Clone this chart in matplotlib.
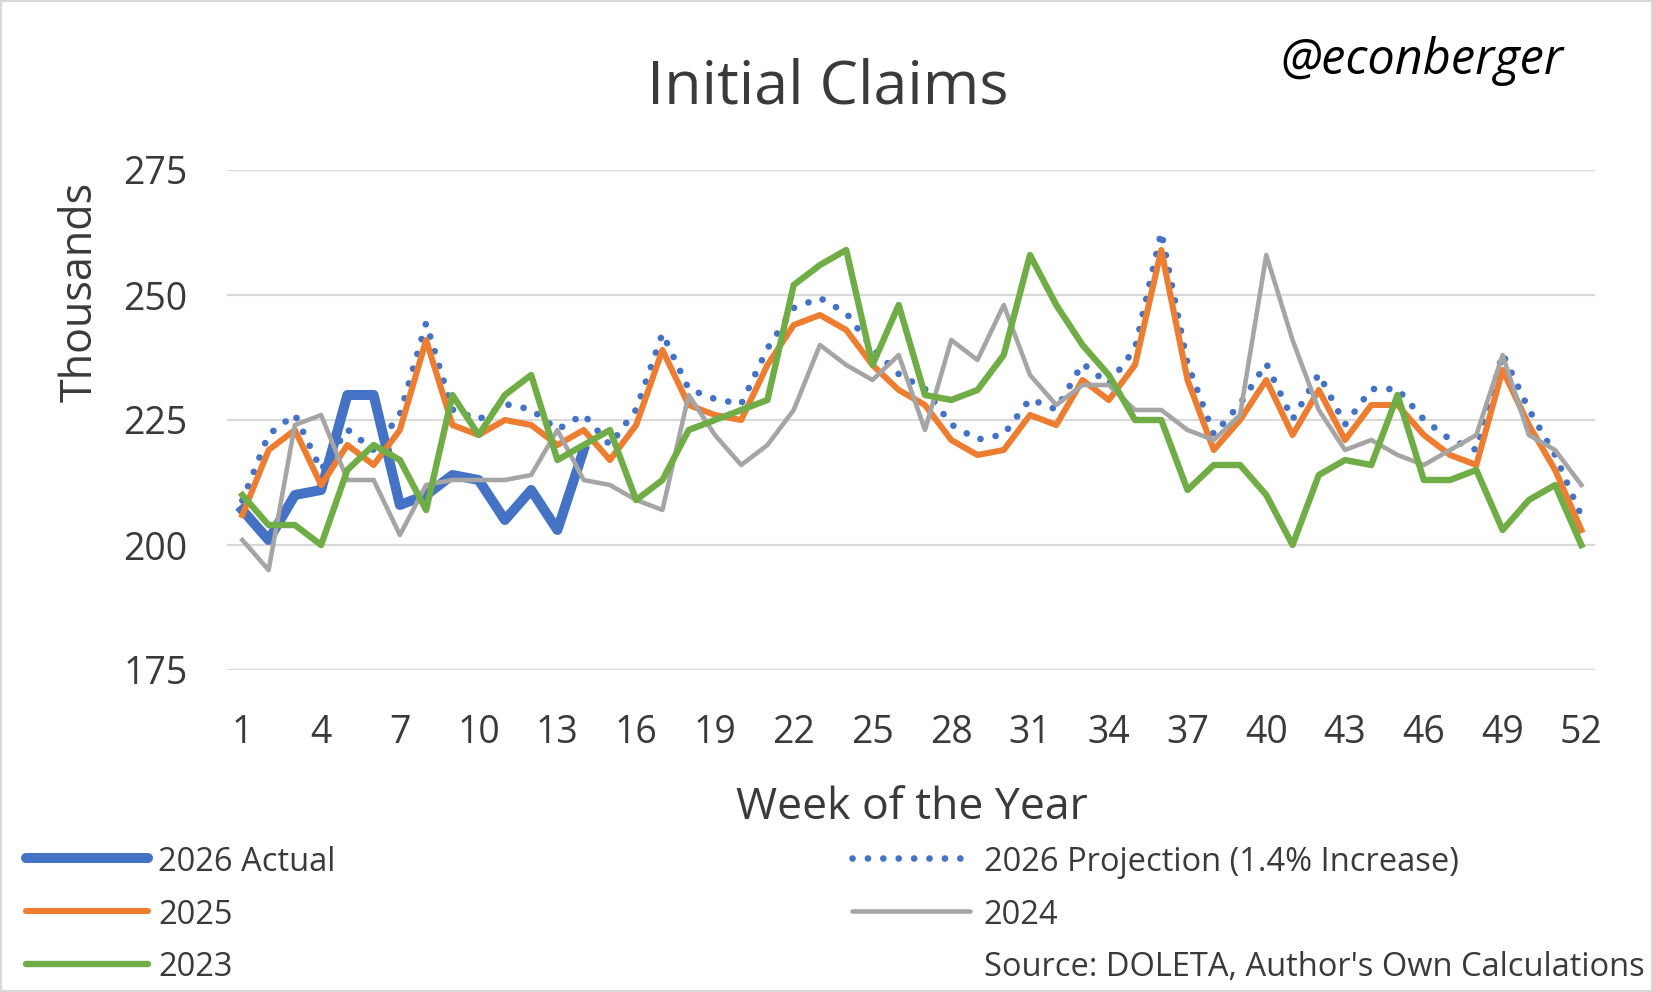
import matplotlib
matplotlib.use("Agg")
from matplotlib import pyplot as plt
from matplotlib.lines import Line2D
from matplotlib.patches import Rectangle

# weekly initial claims, thousands
weeks = list(range(1, 53))
actual_2026 = [207, 201, 210, 211, 230, 230, 208, 210, 214, 213, 205, 211, 203, 219]
proj_2026 = [208.9, 222.1, 226.1, 215.0, 223.1, 219.0, 226.1, 244.4, 227.1, 225.1,
             228.2, 227.1, 223.1, 226.1, 220.0, 227.1, 242.3, 231.2, 229.2, 228.2,
             239.3, 247.4, 249.4, 246.4, 239.3, 234.2, 231.2, 224.1, 221.1, 222.1,
             229.2, 227.1, 236.3, 232.2, 239.3, 262.6, 236.3, 222.1, 228.2, 236.3,
             225.1, 234.2, 224.1, 231.2, 231.2, 225.1, 221.1, 219.0, 238.3, 227.1,
             218.0, 205.8]
claims_2025 = [206, 219, 223, 212, 220, 216, 223, 241, 224, 222,
               225, 224, 220, 223, 217, 224, 239, 228, 226, 225,
               236, 244, 246, 243, 236, 231, 228, 221, 218, 219,
               226, 224, 233, 229, 236, 259, 233, 219, 225, 233,
               222, 231, 221, 228, 228, 222, 218, 216, 235, 224,
               215, 203]
claims_2024 = [201, 195, 224, 226, 213, 213, 202, 212, 213, 213,
               213, 214, 223, 213, 212, 209, 207, 230, 222, 216,
               220, 227, 240, 236, 233, 238, 223, 241, 237, 248,
               234, 228, 232, 232, 227, 227, 223, 221, 226, 258,
               241, 227, 219, 221, 218, 216, 219, 222, 238, 222,
               219, 212]
claims_2023 = [210, 204, 204, 200, 215, 220, 217, 207, 230, 222,
               230, 234, 217, 220, 223, 209, 213, 223, 225, 227,
               229, 252, 256, 259, 236, 248, 230, 229, 231, 238,
               258, 248, 240, 234, 225, 225, 211, 216, 216, 210,
               200, 214, 217, 216, 230, 213, 213, 215, 203, 209,
               212, 200]

x_ticks = list(range(1, 53, 3))
y_ticks = [175, 200, 225, 250, 275]

W, H = 1653, 992
txt = '#3a3a3a'
blue, orange, gray, green = '#4472C4', '#ED7D31', '#A5A5A5', '#70AD47'
dots = (0, (0.01, 2.3))
leg_fs = 23.5

plt.rcParams['font.family'] = ['Open Sans', 'DejaVu Sans']

def fx(px):
    return px / W

def fy(py):
    return 1 - py / H

fig = plt.figure(figsize=(W / 100, H / 100), dpi=100)
ax = fig.add_axes([fx(226.6), fy(670), fx(1595) - fx(226.6), fy(170) - fy(670)])

ax.plot(weeks[:len(actual_2026)], actual_2026, color=blue, lw=7.2, zorder=2)
ax.plot(weeks, proj_2026, color=blue, lw=4.8, linestyle=dots, dash_capstyle='round', zorder=3)
ax.plot(weeks, claims_2025, color=orange, lw=4.4, zorder=4)
ax.plot(weeks, claims_2024, color=gray, lw=3.3, zorder=5)
ax.plot(weeks, claims_2023, color=green, lw=4.6, zorder=6)

ax.set_xlim(0.4, 52.52)
ax.set_ylim(175, 275)
ax.set_xticks(x_ticks)
ax.set_yticks(y_ticks)
ax.grid(axis='y', color='#d9d9d9', lw=1.6)
ax.set_axisbelow(True)
for s in ax.spines.values():
    s.set_visible(False)
ax.tick_params(length=0, labelsize=27, labelcolor=txt)
ax.tick_params(axis='y', pad=28)
ax.tick_params(axis='x', pad=32)

fig.text(fx(828), fy(104), 'Initial Claims', ha='center', va='baseline', fontsize=44, color=txt)
fig.text(fx(1280), fy(74), '@econberger', ha='left', va='baseline', fontsize=35,
         style='italic', color='black')
fig.text(fx(80), fy(292), 'Thousands', rotation=90, ha='center', va='center', fontsize=31, color=txt)
fig.text(fx(912), fy(819), 'Week of the Year', ha='center', va='baseline', fontsize=32, color=txt)

# legend, two columns like the original
entries = [
    (26, 148, 158, 858, '2026 Actual', dict(color=blue, lw=7.2, solid_capstyle='round')),
    (852, 970, 983.5, 858, '2026 Projection (1.4% Increase)',
     dict(color=blue, lw=4.8, linestyle=dots, dash_capstyle='round')),
    (26, 148, 158, 911, '2025', dict(color=orange, lw=4.4, solid_capstyle='round')),
    (852, 970, 983.5, 911, '2024', dict(color=gray, lw=3.3, solid_capstyle='round')),
    (26, 148, 158, 963.5, '2023', dict(color=green, lw=4.6, solid_capstyle='round')),
]
for x0, x1, xt, yc, label, kw in entries:
    fig.add_artist(Line2D([fx(x0), fx(x1)], [fy(yc), fy(yc)], transform=fig.transFigure, **kw))
    fig.text(fx(xt), fy(yc + 13), label, ha='left', va='baseline', fontsize=leg_fs, color=txt)

fig.text(fx(983.5), fy(976.5), "Source: DOLETA, Author's Own Calculations", ha='left',
         va='baseline', fontsize=leg_fs, color=txt)

fig.add_artist(Rectangle((0, 0), 1, 1, transform=fig.transFigure, fill=False,
                         edgecolor='#d9d9d9', lw=3))

fig.savefig('out.png', dpi=100, facecolor='white')
